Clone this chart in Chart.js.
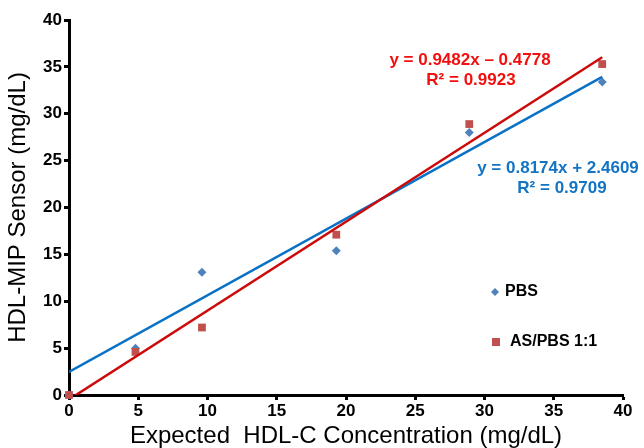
<!DOCTYPE html>
<html>
<head>
<meta charset="utf-8">
<script src="https://cdn.jsdelivr.net/npm/chart.js@4"></script>
<style>
  html, body { margin: 0; padding: 0; background: #fff; }
  #wrap { width: 644px; height: 448px; }
</style>
</head>
<body>
<div id="wrap"><canvas id="calib"></canvas></div>
<script>
// expected HDL-C concentrations (mg/dL)
const expected = [0, 4.8, 9.6, 19.3, 28.9, 38.5];
// sensor readings
const pbsValues = [0, 5.0, 13.1, 15.4, 28.0, 33.4];
const asPbsValues = [0, 4.6, 7.2, 17.1, 28.9, 35.3];

// fitted lines: [slope, intercept, R²]
const pbsFit = [0.8174, 2.4609, 0.9709];
const asPbsFit = [0.9482, -0.4778, 0.9923];

const seriesNames = ['PBS', 'AS/PBS 1:1'];
const axisTicks = [0, 5, 10, 15, 20, 25, 30, 35, 40];

const FONT = '"Liberation Sans", Arial, sans-serif';

const toPoints = (ys) => expected.map((x, i) => ({ x: x, y: ys[i] }));
const fitPoints = (fit) => {
  const x0 = expected[0], x1 = expected[expected.length - 1];
  return [{ x: x0, y: fit[0] * x0 + fit[1] }, { x: x1, y: fit[0] * x1 + fit[1] }];
};
const fmt = (v) => v.toFixed(4);
const eqText = (fit) => 'y = ' + fmt(fit[0]) + 'x ' + (fit[1] < 0 ? '\u2013 ' : '+ ') + fmt(Math.abs(fit[1]));

const BLUE_MARK = '#4f81bd', RED_MARK = '#c0504d';
const BLUE_LINE = '#0a72c6', RED_LINE = '#cc0a0a';
const BLUE_TEXT = '#1474c4', RED_TEXT = '#f20f0f';

// equations and the legend box are painted on top of the plot
const overlay = {
  id: 'overlay',
  afterDatasetsDraw(chart) {
    const ctx = chart.ctx;
    ctx.save();
    ctx.textBaseline = 'middle';
    ctx.textAlign = 'center';
    ctx.font = 'bold 17px ' + FONT;

    ctx.fillStyle = RED_TEXT;
    ctx.fillText(eqText(asPbsFit), 470, 60);
    ctx.fillText('R\u00b2 = ' + asPbsFit[2].toFixed(4), 471, 80);

    ctx.fillStyle = BLUE_TEXT;
    ctx.fillText(eqText(pbsFit), 558, 168);
    ctx.fillText('R\u00b2 = ' + pbsFit[2].toFixed(4), 562, 188);

    // legend
    ctx.textAlign = 'left';
    ctx.font = 'bold 16px ' + FONT;
    ctx.fillStyle = BLUE_MARK;
    ctx.beginPath();
    ctx.moveTo(495, 288); ctx.lineTo(499, 292); ctx.lineTo(495, 296); ctx.lineTo(491, 292);
    ctx.closePath();
    ctx.fill();
    ctx.fillStyle = RED_MARK;
    ctx.fillRect(492, 338, 8, 8);
    ctx.fillStyle = '#000';
    ctx.fillText(seriesNames[0], 505, 292);
    ctx.fillText(seriesNames[1], 510, 342);
    ctx.restore();
  }
};

const axisBase = {
  type: 'linear',
  min: 0,
  max: 40,
  afterBuildTicks: (scale) => { scale.ticks = axisTicks.map(v => ({ value: v })); },
  border: { display: true, color: '#000', width: 3 },
  grid: { display: true, drawOnChartArea: false, drawTicks: true, tickLength: 5, tickColor: '#000', tickWidth: 3 },
  ticks: { color: '#000', font: { family: FONT, size: 17, weight: 'bold' } }
};

new Chart(document.getElementById('calib'), {
  type: 'scatter',
  data: {
    datasets: [{
      label: seriesNames[0],
      data: toPoints(pbsValues),
      pointStyle: 'rectRot',
      pointRadius: 4.5,
      backgroundColor: BLUE_MARK,
      borderColor: BLUE_MARK,
      borderWidth: 0,
      clip: false,
      order: 3
    }, {
      label: seriesNames[1],
      data: toPoints(asPbsValues),
      pointStyle: 'rect',
      pointRadius: 5.5,
      backgroundColor: RED_MARK,
      borderColor: RED_MARK,
      borderWidth: 0,
      clip: false,
      order: 2
    }, {
      type: 'line',
      label: 'PBS fit',
      data: fitPoints(pbsFit),
      borderColor: BLUE_LINE,
      borderWidth: 2.5,
      pointRadius: 0,
      fill: false,
      order: 1
    }, {
      type: 'line',
      label: 'AS/PBS fit',
      data: fitPoints(asPbsFit),
      borderColor: RED_LINE,
      borderWidth: 2.5,
      pointRadius: 0,
      fill: false,
      order: 0
    }]
  },
  options: {
    responsive: true,
    maintainAspectRatio: false,
    animation: false,
    layout: { padding: { top: 20, right: 21, left: 0, bottom: 0 } },
    plugins: {
      legend: { display: false },
      tooltip: { enabled: false }
    },
    scales: {
      x: Object.assign({}, axisBase, {
        position: 'bottom',
        afterFit: (scale) => { scale.height = 53; },
        ticks: Object.assign({}, axisBase.ticks, { padding: 1, maxRotation: 0 }),
        title: {
          display: true,
          text: 'Expected  HDL-C Concentration (mg/dL)',
          color: '#000',
          padding: { top: 0, bottom: 0 },
          font: { family: FONT, size: 24, lineHeight: 1 }
        }
      }),
      y: Object.assign({}, axisBase, {
        position: 'left',
        afterFit: (scale) => { scale.width = 69; },
        ticks: Object.assign({}, axisBase.ticks, { padding: 2 }),
        title: {
          display: true,
          text: 'HDL-MIP Sensor (mg/dL)',
          color: '#000',
          padding: { top: 6, bottom: 0 },
          font: { family: FONT, size: 24, lineHeight: 1 }
        }
      })
    }
  },
  plugins: [overlay]
});
</script>
</body>
</html>
